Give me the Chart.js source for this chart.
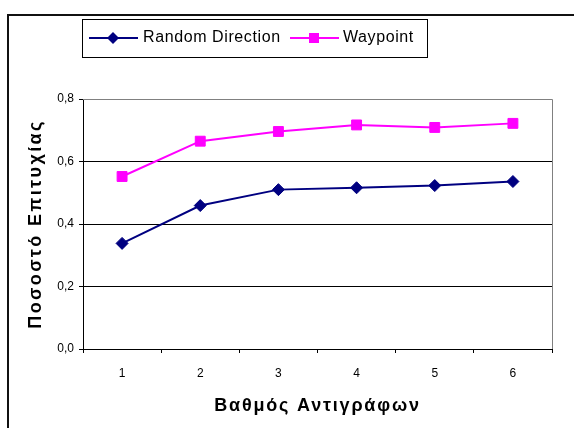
<!DOCTYPE html>
<html>
<head>
    <title>Ποσοστό Επιτυχίας</title>
    <style>
        body { margin: 0; background: #fff; }
        #wrap { position: relative; width: 574px; height: 428px; }
    </style>
</head>
<body>
    <div id="wrap">
        <canvas id="myChart" width="574" height="428"></canvas>
    </div>
    <script src="https://cdn.jsdelivr.net/npm/chart.js"></script>
    <script>
        // values
        const categories = ['1', '2', '3', '4', '5', '6'];
        const randomDirection = [0.338, 0.459, 0.510, 0.516, 0.523, 0.536];
        const waypoint = [0.552, 0.665, 0.696, 0.717, 0.709, 0.722];
        const yTicks = [0, 0.2, 0.4, 0.6, 0.8];

        const FONT = '"Liberation Sans", Arial, sans-serif';

        // the original titles are spaced out a bit (old office rendering)
        function spacedTitle(scale, spacing) {
            if (scale._spaced) return;
            scale._spaced = true;
            const orig = scale.drawTitle;
            scale.drawTitle = function () {
                const c = this.ctx;
                const prev = c.letterSpacing;
                c.letterSpacing = spacing;
                orig.call(this);
                c.letterSpacing = prev || '0px';
            };
        }

        // outer frame (top + left only visible) and gray plot border
        const framePlugin = {
            id: 'frame',
            beforeDraw(chart) {
                const c = chart.ctx;
                c.save();
                c.fillStyle = '#fff';
                c.fillRect(0, 0, chart.width, chart.height);
                c.strokeStyle = '#111';
                c.lineWidth = 2;
                c.beginPath();
                c.moveTo(8, chart.height);
                c.lineTo(8, 15);
                c.lineTo(chart.width, 15);
                c.stroke();
                c.restore();
            },
            beforeDatasetsDraw(chart) {
                const a = chart.chartArea;
                const c = chart.ctx;
                c.save();
                c.strokeStyle = '#808080';
                c.lineWidth = 1;
                c.beginPath();
                c.moveTo(a.left, a.top + 0.5);
                c.lineTo(a.right + 0.5, a.top + 0.5);
                c.lineTo(a.right + 0.5, a.bottom);
                c.stroke();
                c.restore();
            }
        };

        function drawMarker(c, style, x, y, color) {
            c.fillStyle = color;
            c.beginPath();
            if (style === 'rectRot') {
                c.moveTo(x - 6, y); c.lineTo(x, y - 6); c.lineTo(x + 6, y); c.lineTo(x, y + 6);
            } else {
                c.rect(x - 5, y - 5, 10, 10);
            }
            c.closePath();
            c.fill();
        }

        // legend in a box, line + marker samples
        const legendPlugin = {
            id: 'boxLegend',
            afterDraw(chart) {
                const c = chart.ctx;
                c.save();
                c.strokeStyle = '#000';
                c.lineWidth = 1;
                c.strokeRect(82.5, 19.5, 345, 38);
                const items = [
                    { x: 89, text: 143 },
                    { x: 290, text: 343 }
                ];
                const y = 38;
                c.font = '16px ' + FONT;
                c.letterSpacing = '0.6px';
                c.textBaseline = 'middle';
                chart.data.datasets.forEach((ds, i) => {
                    const it = items[i];
                    c.strokeStyle = ds.borderColor;
                    c.lineWidth = 2;
                    c.beginPath();
                    c.moveTo(it.x, y);
                    c.lineTo(it.x + 49, y);
                    c.stroke();
                    drawMarker(c, ds.pointStyle, it.x + 24, y, ds.pointBackgroundColor);
                    c.fillStyle = '#000';
                    c.fillText(ds.label, it.text, y);
                });
                c.letterSpacing = '0px';
                c.restore();
            }
        };

        const data = {
            labels: categories,
            datasets: [{
                label: 'Random Direction',
                data: randomDirection,
                borderColor: '#000080',
                backgroundColor: '#000080',
                pointBackgroundColor: '#000080',
                pointBorderColor: '#000080',
                pointStyle: 'rectRot',
                pointRadius: 6,
                pointBorderWidth: 1,
                borderWidth: 2,
                tension: 0
            }, {
                label: 'Waypoint',
                data: waypoint,
                borderColor: '#FF00FF',
                backgroundColor: '#FF00FF',
                pointBackgroundColor: '#FF00FF',
                pointBorderColor: '#FF00FF',
                pointStyle: 'rect',
                pointRadius: 7,
                pointBorderWidth: 1,
                borderWidth: 2,
                tension: 0
            }]
        };

        const config = {
            type: 'line',
            data: data,
            options: {
                responsive: false,
                animation: false,
                devicePixelRatio: 1,
                layout: { padding: { top: 99, right: 22, left: 0, bottom: 0 } },
                plugins: {
                    legend: { display: false },
                    tooltip: { enabled: false }
                },
                scales: {
                    x: {
                        offset: true,
                        afterFit: s => { s.height = 79; spacedTitle(s, '1.8px'); },
                        grid: { offset: true, drawOnChartArea: false, tickLength: 4, tickColor: '#000' },
                        border: { color: '#000', width: 1 },
                        ticks: { color: '#000', padding: 13, font: { family: FONT, size: 12 } },
                        title: {
                            display: true,
                            text: 'Βαθμός Αντιγράφων',
                            color: '#000',
                            font: { family: FONT, size: 18, weight: 'bold' },
                            padding: { top: 0, bottom: 11 }
                        }
                    },
                    y: {
                        min: 0,
                        max: 0.8,
                        afterFit: s => { s.width = 83; spacedTitle(s, '2.4px'); },
                        afterBuildTicks: s => { s.ticks = yTicks.map(v => ({ value: v })); },
                        grid: {
                            color: ctx => (ctx.tick && ctx.tick.value > 0 && ctx.tick.value < 0.8) ? '#000' : 'rgba(0,0,0,0)',
                            tickLength: 4,
                            tickColor: '#000'
                        },
                        border: { color: '#000', width: 1 },
                        ticks: {
                            color: '#000',
                            padding: 5,
                            font: { family: FONT, size: 12 },
                            callback: v => v.toFixed(1).replace('.', ',')
                        },
                        title: {
                            display: true,
                            text: 'Ποσοστό Επιτυχίας',
                            color: '#000',
                            font: { family: FONT, size: 18, weight: 'bold' },
                            padding: { top: 25, bottom: 0 }
                        }
                    }
                }
            },
            plugins: [framePlugin, legendPlugin]
        };

        new Chart(document.getElementById('myChart'), config);
    </script>
</body>
</html>
